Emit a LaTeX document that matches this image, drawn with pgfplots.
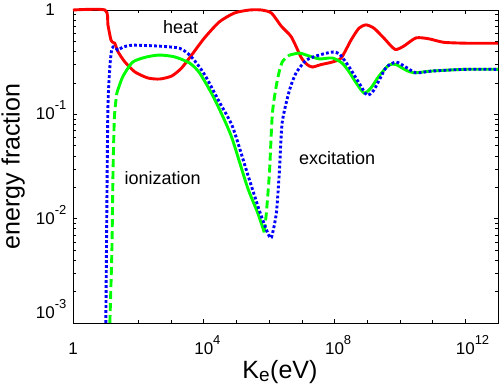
\documentclass[border=0pt]{standalone}
\usepackage{pgfplots}
\pgfplotsset{compat=1.18}
\usepackage{fontspec}
\setmainfont{Liberation Sans}

\newcommand{\ex}[1]{\rlap{\raisebox{10pt}{\fontsize{13}{13}\selectfont #1}}}

\begin{document}
\begin{tikzpicture}
\begin{axis}[
  scale only axis, width=425pt, height=313pt,
  xmode=log, ymode=log,
  xmin=1, xmax=1e13, ymin=1e-3, ymax=1,
  clip=false,
  axis line style={line width=0.6pt},
  tick style={black, line width=0.6pt},
  major tick length=4pt, minor tick length=3pt,
  tick align=inside,
  xtick={1,1e4,1e8,1e12},
  xticklabels={1,10\ex{4},10\ex{8},10\ex{12}},
  minor xtick={10,100,1000,1e5,1e6,1e7,1e9,1e10,1e11,1e13},
  ytick={1e-3,1e-2,1e-1,1},
  yticklabels={\raisebox{10pt}{10\ex{-3}},10\ex{-2},10\ex{-1},1},
  minor ytick={2e-3,3e-3,4e-3,5e-3,6e-3,7e-3,8e-3,9e-3,
               2e-2,3e-2,4e-2,5e-2,6e-2,7e-2,8e-2,9e-2,
               2e-1,3e-1,4e-1,5e-1,6e-1,7e-1,8e-1,9e-1},
  every tick label/.append style={font=\fontsize{17}{17}\selectfont},
  xticklabel style={anchor=base, yshift=-32pt},
  yticklabel style={anchor=base east, inner sep=0pt, xshift=-18pt, yshift=-5.5pt},
  xlabel={K\textsubscript{\fontsize{19}{19}\selectfont e}(eV)},
  ylabel={energy fraction},
  label style={font=\fontsize{25}{25}\selectfont},
  xlabel style={at={(axis description cs:0.487,-0.176)}, anchor=base},
  ylabel style={at={(axis description cs:-0.141,0.5)}, anchor=center},
]
\coordinate (ll) at (rel axis cs:0,0);
\coordinate (ur) at (rel axis cs:1,1);

% heat
\addplot[red, line width=2.9pt, smooth, tension=0.4] coordinates {
(1,1)(9.5,1)(11.7,0.72)(14.4,0.52)(16.6,0.49)(19,0.48)(23.6,0.40)(38,0.32)
(78,0.255)(195,0.223)(450,0.218)(1050,0.233)(2100,0.278)(4250,0.37)
(10500,0.54)(30000,0.77)(87000,0.936)(2.5e5,1)(5.8e5,1)(1.17e6,0.936)
(2.35e6,0.70)(4.8e6,0.55)(9.6e6,0.35)(1.45e7,0.30)(2.1e7,0.284)(3.9e7,0.30)
(8.5e7,0.317)(1.6e8,0.347)(3.2e8,0.515)(5.6e8,0.67)(9.2e8,0.72)(1.6e9,0.67)
(3.2e9,0.54)(7e9,0.42)(1.3e10,0.45)(3.1e10,0.54)(7.6e10,0.53)(2.2e11,0.49)
(1.26e12,0.48)(1e13,0.48)};

% ionization (green): dashed on steep parts, solid elsewhere
\addplot[green, line width=2.9pt, dash pattern=on 8pt off 4pt, smooth, tension=0.4] coordinates {
(13.4,1e-3)(15.5,0.005)(16.6,0.0235)(18.4,0.092)(21.9,0.16)};
\addplot[green, line width=2.9pt, smooth, tension=0.4] coordinates {
(21.9,0.16)(33,0.228)(67,0.317)(180,0.355)(450,0.37)(1300,0.355)(3700,0.31)
(7400,0.25)(18500,0.153)(43000,0.088)(76000,0.057)(2.17e5,0.020)
(4.4e5,0.0115)(7.1e5,0.0074)};
\addplot[green, line width=2.9pt, dash pattern=on 8pt off 4pt, smooth, tension=0.4] coordinates {
(7.1e5,0.0074)(8.2e5,0.0113)(1.02e6,0.0274)(1.26e6,0.103)(1.78e6,0.213)
(2.5e6,0.317)(4.2e6,0.37)};
\addplot[green, line width=2.9pt, smooth, tension=0.4] coordinates {
(4.2e6,0.37)(8.3e6,0.387)(1.36e7,0.37)(3.4e7,0.34)(8.5e7,0.347)(1.7e8,0.31)
(2.8e8,0.255)(4.6e8,0.2)(8e8,0.16)(1.3e9,0.179)(2.3e9,0.233)(4.6e9,0.297)
(7.6e9,0.30)(1.5e10,0.266)(2.7e10,0.25)(9.5e10,0.26)(1e12,0.27)(1e13,0.27)};

% excitation (blue dotted)
\addplot[blue, line width=2.9pt, line cap=butt, dash pattern=on 2.8pt off 2.2pt, smooth, tension=0.4] coordinates {
(10.1,1e-3)(10.9,0.015)(11.7,0.117)(13.4,0.284)(15.5,0.43)(19,0.44)(23.6,0.413)
(33,0.44)(67,0.46)(450,0.45)(1800,0.43)(3700,0.37)(7400,0.284)(12200,0.223)
(30000,0.131)(76000,0.076)(2.17e5,0.027)(5e5,0.012)(8.9e5,0.0074)
(1.17e6,0.0066)(1.66e6,0.0113)(2.04e6,0.0274)(2.5e6,0.083)(4.2e6,0.171)
(6.7e6,0.25)(1.36e7,0.33)(3.4e7,0.37)(8.5e7,0.395)(1.4e8,0.38)(2.8e8,0.284)
(5.6e8,0.2)(9.8e8,0.153)(1.6e9,0.171)(3.7e9,0.278)(7.6e9,0.317)(1.5e10,0.284)
(3.1e10,0.25)(9.5e10,0.26)(1e12,0.27)(1e13,0.27)};

\node[font=\fontsize{18}{18}\selectfont] at (axis cs:1950,0.687) {heat};
\node[font=\fontsize{18}{18}\selectfont] at (axis cs:550,0.0245) {ionization};
\node[font=\fontsize{18}{18}\selectfont] at (axis cs:1.2e8,0.038) {excitation};
\end{axis}
\pgfresetboundingbox
\path[use as bounding box] ([shift={(-73pt,-63pt)}]ll) rectangle ([shift={(1pt,10pt)}]ur);
\end{tikzpicture}
\end{document}
